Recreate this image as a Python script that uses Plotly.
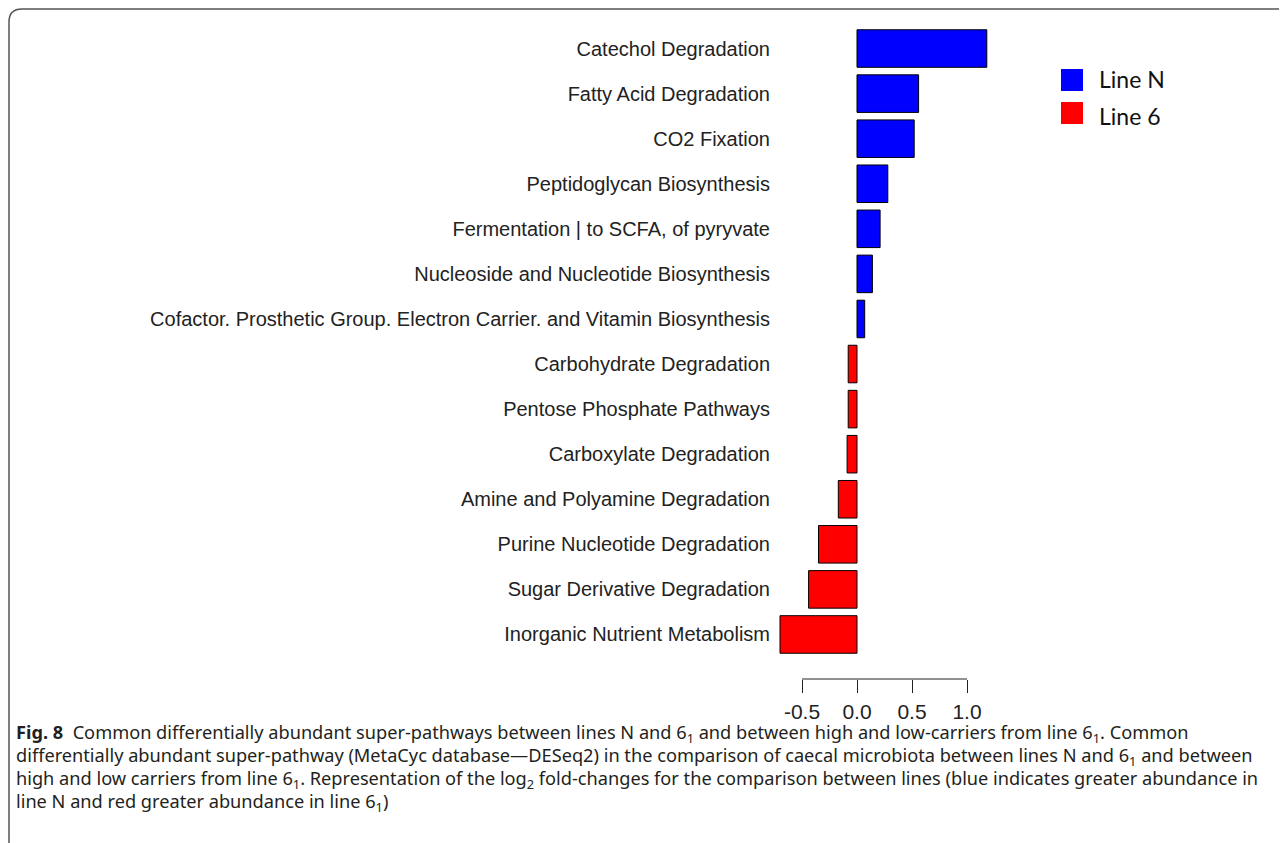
import plotly.graph_objects as go

categories = [
    "Catechol Degradation",
    "Fatty Acid Degradation",
    "CO2 Fixation",
    "Peptidoglycan Biosynthesis",
    "Fermentation | to SCFA, of pyryvate",
    "Nucleoside and Nucleotide Biosynthesis",
    "Cofactor. Prosthetic Group. Electron Carrier. and Vitamin Biosynthesis",
    "Carbohydrate Degradation",
    "Pentose Phosphate Pathways",
    "Carboxylate Degradation",
    "Amine and Polyamine Degradation",
    "Purine Nucleotide Degradation",
    "Sugar Derivative Degradation",
    "Inorganic Nutrient Metabolism",
]
log2fc = [1.18, 0.56, 0.52, 0.28, 0.21, 0.14, 0.07,
          -0.08, -0.08, -0.09, -0.17, -0.35, -0.44, -0.70]
tick_vals = [-0.5, 0.0, 0.5, 1.0]
tick_text = ["-0.5", "0.0", "0.5", "1.0"]
legend_labels = ["Line N", "Line 6"]
legend_colors = ["#0000FF", "#FF0000"]

OFF = 8  # page body margin
W, H = 1287 - OFF, 843 - OFF
L, T = 761, 18
R = W - (L + 231)
B = H - 671
PW, PH = W - L - R, H - T - B


def px(xp):
    return (xp - OFF - L) / PW


def py(yp):
    return (H - B - (yp - OFF)) / PH


colors = [legend_colors[0] if v > 0 else legend_colors[1] for v in log2fc]

fig = go.Figure()
fig.add_trace(go.Bar(
    x=log2fc, y=categories, orientation="h",
    marker=dict(color=colors, line=dict(color="black", width=1)),
    width=0.833, showlegend=False,
))

fig.update_layout(
    width=W, height=H,
    margin=dict(l=L, r=R, t=T, b=B, pad=0),
    paper_bgcolor="white", plot_bgcolor="white",
    font=dict(family="Liberation Sans, Arial", size=20, color="#222222"),
    xaxis=dict(
        range=[-0.8, 1.3], anchor="free", position=0,
        showgrid=False, zeroline=False, showline=False,
        tickvals=tick_vals, ticktext=tick_text,
        ticks="outside", ticklen=13, tickwidth=1, tickcolor="#222222",
        ticklabelstandoff=1,
        tickfont=dict(family="Liberation Sans, Arial", size=21, color="#222222"),
    ),
    yaxis=dict(
        domain=[22 / PH, 1],
        categoryorder="array", categoryarray=categories,
        range=[13.5, -0.5],
        showgrid=False, zeroline=False, showline=False, ticks="",
        ticklabelstandoff=-2,
        tickfont=dict(family="Liberation Sans, Arial", size=20, color="#222222"),
    ),
    showlegend=False,
)

shapes = []
shapes.append(dict(type="line", xref="x", yref="paper",
                   x0=tick_vals[0], x1=tick_vals[-1], y0=0, y1=0,
                   line=dict(color="#222222", width=1)))

for i, c in enumerate(legend_colors):
    y0 = 69 + i * 33
    shapes.append(dict(type="rect", xref="paper", yref="paper",
                       x0=px(1061), x1=px(1083), y0=py(y0 + 22), y1=py(y0),
                       fillcolor=c, line=dict(width=0)))

bx, by, rr = 9, 9, 13
path = (f"M {px(bx)} {py(850)} L {px(bx)} {py(by + rr)} "
        f"Q {px(bx)} {py(by)} {px(bx + rr)} {py(by)} L {px(1300)} {py(by)}")
shapes.append(dict(type="path", xref="paper", yref="paper", path=path,
                   line=dict(color="#555555", width=1.5)))
fig.update_layout(shapes=shapes)

annotations = []
for i, lab in enumerate(legend_labels):
    annotations.append(dict(xref="paper", yref="paper", x=px(1097), y=py(79 + i * 37),
                            text=lab, showarrow=False, xanchor="left", yanchor="middle",
                            font=dict(family="Lato, Open Sans", size=23, color="#111111")))

nb = "\u00a0"
caption_lines = [
    f"<b>Fig. 8</b>{nb}{nb}Common differentially abundant super-pathways between lines N and 6<sub>1</sub> and between high and low-carriers from line 6<sub>1</sub>. Common",
    "differentially abundant super-pathway (MetaCyc database—DESeq2) in the comparison of caecal microbiota between lines N and 6<sub>1</sub> and between",
    "high and low carriers from line 6<sub>1</sub>. Representation of the log<sub>2</sub> fold-changes for the comparison between lines (blue indicates greater abundance in",
    "line N and red greater abundance in line 6<sub>1</sub>)",
]
for i, t in enumerate(caption_lines):
    annotations.append(dict(xref="paper", yref="paper", x=px(14), y=py(733 + i * 23.3),
                            text=t, showarrow=False, xanchor="left", yanchor="middle",
                            font=dict(family="Noto Sans", size=18.2, color="#231f20")))
fig.update_layout(annotations=annotations)

fig.write_html("out.html")
